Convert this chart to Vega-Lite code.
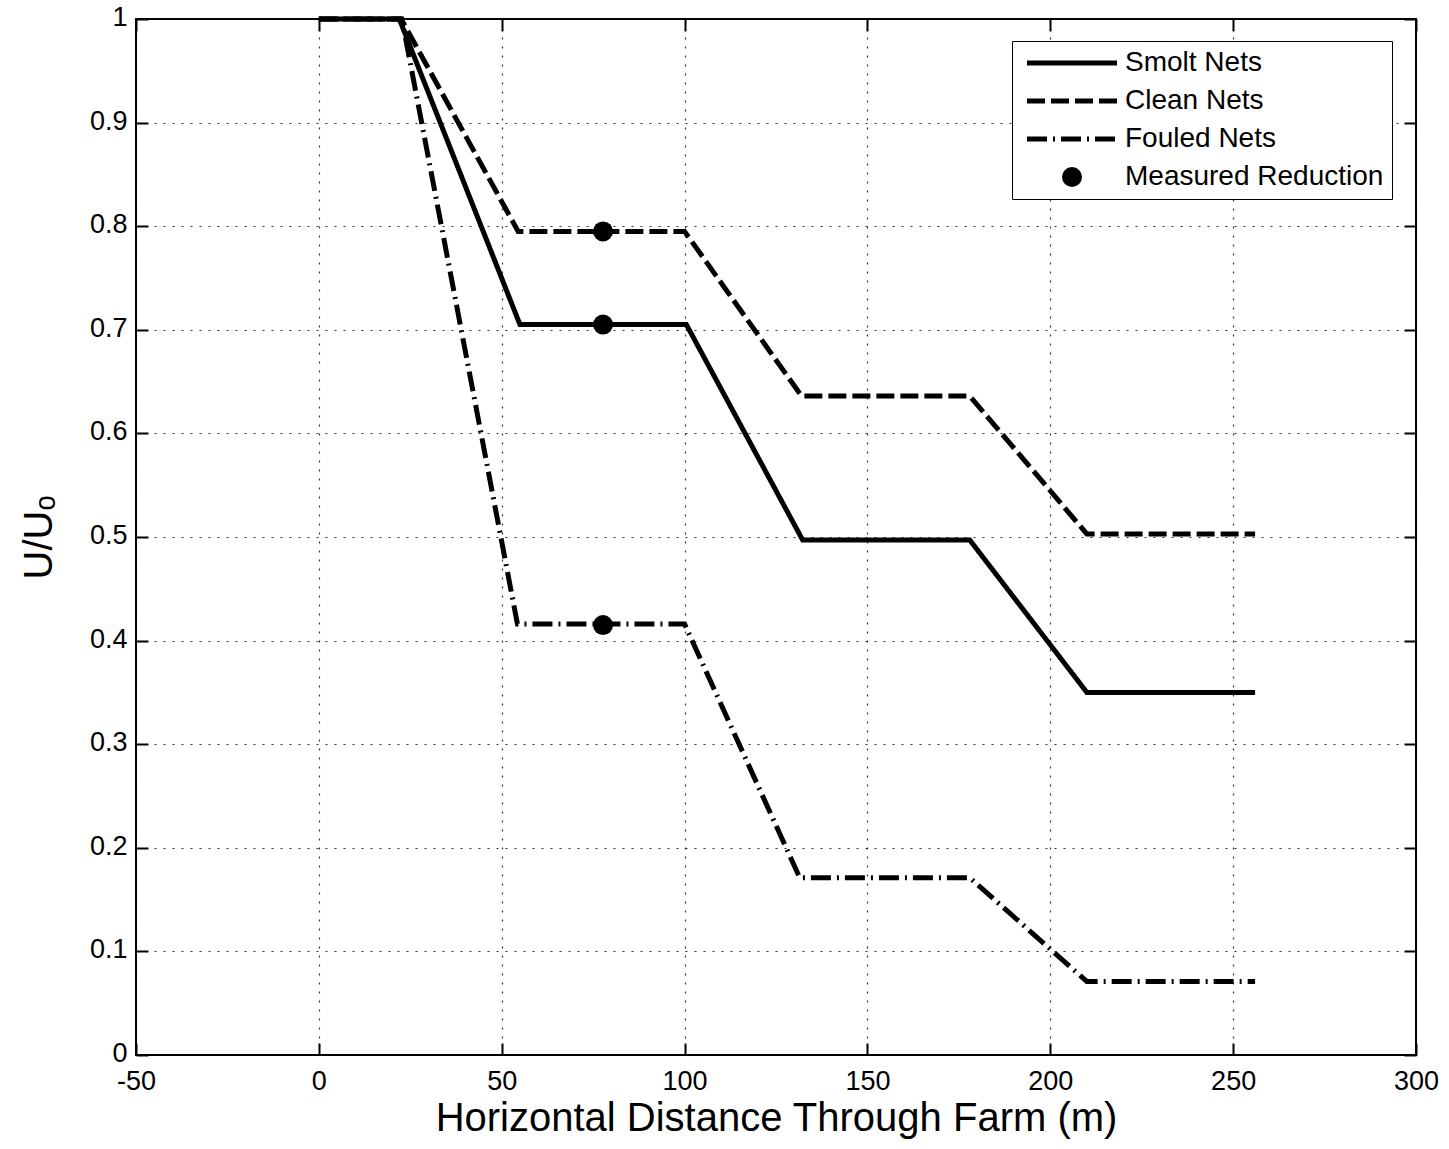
{
  "$schema": "https://vega.github.io/schema/vega-lite/v6.json",
  "width": 1280,
  "height": 1036,
  "autosize": {"type": "none"},
  "padding": {"left": 136, "top": 19, "right": 33, "bottom": 94},
  "background": "white",
  "config": {
    "view": {"stroke": "black", "strokeWidth": 2},
    "font": "Liberation Sans",
    "axis": {
      "labelFont": "Liberation Sans",
      "titleFont": "Liberation Sans",
      "labelColor": "black",
      "titleColor": "black",
      "labelFontSize": 27,
      "titleFontSize": 40,
      "titleFontWeight": "normal",
      "tickColor": "black",
      "tickWidth": 2,
      "tickSize": -12,
      "domain": false,
      "gridColor": "black",
      "gridDash": [2, 7],
      "gridWidth": 1.2,
      "gridOpacity": 0.8
    }
  },
  "datasets": {
    "lines": [
      {"series": "Smolt Nets", "x": 0, "y": 1},
      {"series": "Smolt Nets", "x": 22, "y": 1},
      {"series": "Smolt Nets", "x": 55, "y": 0.705},
      {"series": "Smolt Nets", "x": 100.5, "y": 0.705},
      {"series": "Smolt Nets", "x": 132.3, "y": 0.497},
      {"series": "Smolt Nets", "x": 178, "y": 0.497},
      {"series": "Smolt Nets", "x": 210, "y": 0.35},
      {"series": "Smolt Nets", "x": 256, "y": 0.35},
      {"series": "Clean Nets", "x": 0, "y": 1},
      {"series": "Clean Nets", "x": 22.5, "y": 1},
      {"series": "Clean Nets", "x": 54.5, "y": 0.795},
      {"series": "Clean Nets", "x": 100, "y": 0.795},
      {"series": "Clean Nets", "x": 132, "y": 0.636},
      {"series": "Clean Nets", "x": 178, "y": 0.636},
      {"series": "Clean Nets", "x": 210, "y": 0.503},
      {"series": "Clean Nets", "x": 256, "y": 0.503},
      {"series": "Fouled Nets", "x": 0, "y": 1},
      {"series": "Fouled Nets", "x": 22.7, "y": 1},
      {"series": "Fouled Nets", "x": 54.3, "y": 0.416},
      {"series": "Fouled Nets", "x": 100, "y": 0.416},
      {"series": "Fouled Nets", "x": 131.5, "y": 0.171},
      {"series": "Fouled Nets", "x": 178, "y": 0.171},
      {"series": "Fouled Nets", "x": 210, "y": 0.071},
      {"series": "Fouled Nets", "x": 256, "y": 0.071}
    ],
    "measured": [
      {"series": "Measured Reduction", "x": 77.7, "y": 0.795},
      {"series": "Measured Reduction", "x": 77.7, "y": 0.705},
      {"series": "Measured Reduction", "x": 77.7, "y": 0.415}
    ]
  },
  "layer": [
    {
      "data": {"name": "lines"},
      "mark": {"type": "line", "strokeWidth": 5, "color": "black", "strokeCap": "butt"},
      "encoding": {
        "x": {
          "field": "x", "type": "quantitative",
          "scale": {"domain": [-50, 300], "nice": false, "zero": false},
          "axis": {
            "orient": "bottom",
            "values": [-50, 0, 50, 100, 150, 200, 250, 300],
            "labelExpr": "datum.value + ''",
            "grid": true,
            "labelPadding": 25,
            "labelFlush": false,
            "title": "Horizontal Distance Through Farm (m)",
            "titlePadding": 4
          }
        },
        "y": {
          "field": "y", "type": "quantitative",
          "scale": {"domain": [0, 1], "nice": false},
          "axis": {
            "orient": "left",
            "values": [0, 0.1, 0.2, 0.3, 0.4, 0.5, 0.6, 0.7, 0.8, 0.9, 1],
            "format": "~g",
            "grid": true,
            "labelPadding": 21,
            "labelOffset": -1.5,
            "labelFlush": false,
            "title": "U/Uₒ",
            "titlePadding": 30
          }
        },
        "strokeDash": {
          "field": "series", "type": "nominal",
          "scale": {
            "domain": ["Smolt Nets", "Clean Nets", "Fouled Nets", "Measured Reduction"],
            "range": [[1, 0], [18, 6], [20, 6, 2, 6], [1, 0]]
          },
          "legend": {
            "orient": "none",
            "legendX": 876,
            "legendY": 22,
            "title": null,
            "strokeColor": "black",
            "fillColor": "white",
            "padding": 8,
            "labelFont": "Liberation Sans",
            "labelFontSize": 28,
            "labelColor": "black",
            "labelLimit": 400,
            "labelOffset": 77,
            "rowPadding": 10,
            "symbolType": "stroke",
            "symbolSize": 100,
            "symbolStrokeWidth": 5,
            "symbolStrokeColor": "black",
            "encode": {
              "symbols": {
                "update": {
                  "shape": {"signal": "datum.value === 'Measured Reduction' ? 'circle' : 'M-9,0H9'"},
                  "size": {"signal": "datum.value === 'Measured Reduction' ? 400 : 100"},
                  "x": {"value": 52},
                  "fill": {"signal": "datum.value === 'Measured Reduction' ? 'black' : 'transparent'"},
                  "stroke": {"value": "black"},
                  "opacity": {"value": 1},
                  "strokeOpacity": {"value": 1},
                  "strokeWidth": {"signal": "datum.value === 'Measured Reduction' ? 0 : 5"}
                }
              }
            }
          }
        }
      }
    },
    {
      "data": {"name": "measured"},
      "mark": {"type": "point", "filled": true, "size": 400, "color": "black", "opacity": 1, "strokeWidth": 0},
      "encoding": {
        "x": {
          "field": "x", "type": "quantitative",
          "scale": {"domain": [-50, 300], "nice": false, "zero": false},
          "axis": {
            "orient": "top",
            "values": [-50, 0, 50, 100, 150, 200, 250, 300],
            "labels": false,
            "grid": false,
            "title": null
          }
        },
        "y": {
          "field": "y", "type": "quantitative",
          "scale": {"domain": [0, 1], "nice": false},
          "axis": {
            "orient": "right",
            "values": [0, 0.1, 0.2, 0.3, 0.4, 0.5, 0.6, 0.7, 0.8, 0.9, 1],
            "labels": false,
            "grid": false,
            "title": null
          }
        }
      }
    }
  ],
  "resolve": {"axis": {"x": "independent", "y": "independent"}}
}
